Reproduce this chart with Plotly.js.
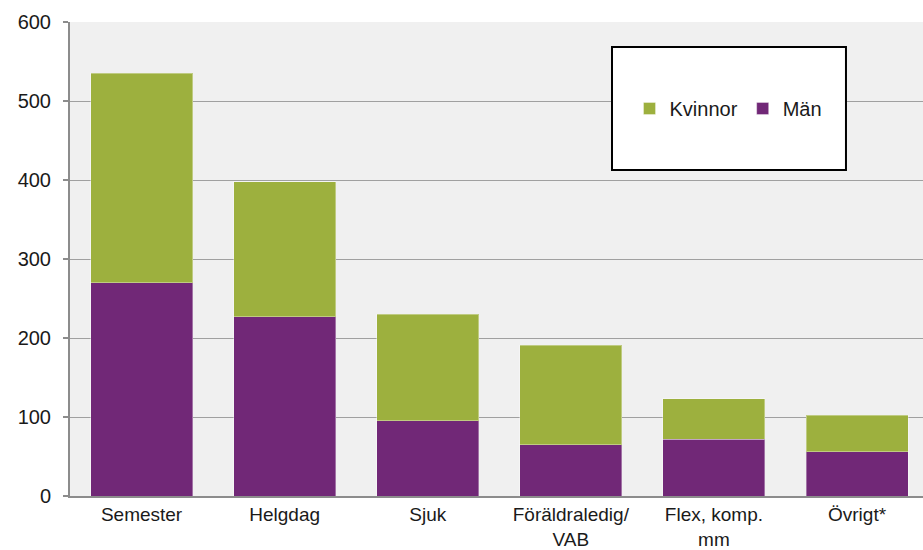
<!DOCTYPE html>
<html>
<head>
<meta charset="utf-8">
<script src="https://cdn.plot.ly/plotly-3.0.1.min.js"></script>
<style>
  html, body { margin: 0; padding: 0; background: #ffffff; }
  #chart { width: 923px; height: 550px; }
</style>
</head>
<body>
<div id="chart"></div>
<script>
// Categories of absence and the number per group
const categories = ['Semester', 'Helgdag', 'Sjuk', 'Föräldraledig/<br>VAB', 'Flex, komp.<br>mm', 'Övrigt*'];
const man = [270, 227, 95, 65, 72, 56];
const kvinnor = [265, 171, 135, 126, 51, 46];
const seriesNames = ['Män', 'Kvinnor'];
const yTicks = [0, 100, 200, 300, 400, 500, 600];

const family = '"Liberation Sans", Arial, sans-serif';
const font = { family: family, size: 20, color: '#1a1a1a' };

const traces = [
  {
    type: 'bar', name: seriesNames[0], x: categories, y: man,
    marker: { color: '#712877', line: { width: 1, color: 'rgba(255,255,255,0.35)' } },
    hoverinfo: 'skip'
  },
  {
    type: 'bar', name: seriesNames[1], x: categories, y: kvinnor,
    marker: { color: '#9db03e', line: { width: 1, color: 'rgba(255,255,255,0.35)' } },
    hoverinfo: 'skip'
  }
];

const layout = {
  width: 923, height: 550,
  margin: { l: 70, r: 0, t: 22, b: 54, pad: 0 },
  paper_bgcolor: '#ffffff',
  plot_bgcolor: '#f0f0f0',
  barmode: 'stack',
  bargap: 0.287,
  font: font,
  showlegend: true,
  legend: {
    orientation: 'h',
    traceorder: 'reversed',
    x: 0.772, xanchor: 'center',
    y: 0.8175, yanchor: 'middle',
    bgcolor: 'rgba(0,0,0,0)',
    borderwidth: 0,
    font: { family: family, size: 20, color: '#1a1a1a' },
    itemwidth: 30
  },
  xaxis: {
    type: 'category',
    range: [-0.5, 5.461],
    showline: true, linecolor: '#8c8c8c', linewidth: 2,
    ticks: '', showgrid: false,
    tickfont: { family: family, size: 19, color: '#1a1a1a' },
    fixedrange: true
  },
  yaxis: {
    range: [0, 600],
    tickvals: yTicks,
    showline: true, linecolor: '#8c8c8c', linewidth: 2,
    ticks: 'outside', ticklen: 5, tickcolor: '#8c8c8c', tickwidth: 1.5,
    showgrid: true, gridcolor: '#a0a0a0', gridwidth: 1,
    zeroline: false,
    tickfont: font,
    ticklabelstandoff: 8,
    fixedrange: true
  },
  shapes: [
    {
      type: 'rect', xref: 'paper', yref: 'paper',
      x0: 0.6354, x1: 0.9097, y0: 0.6878, y1: 0.9473,
      fillcolor: '#ffffff',
      line: { color: '#000000', width: 2 },
      layer: 'above'
    }
  ]
};

Plotly.newPlot('chart', traces, layout, { displayModeBar: false, staticPlot: true });
</script>
</body>
</html>
